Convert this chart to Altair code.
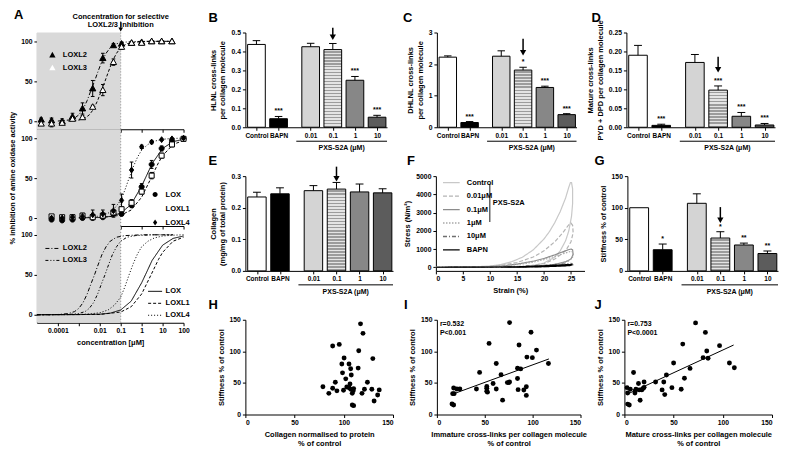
import altair as alt
import pandas as pd

FONT = "Liberation Sans"

# ---------------- Panel A : measured inhibition ----------------
A_CONC_TOP = [1.6e-5, 5e-5, 1.6e-4, 5e-4, 1.5e-3, 4.6e-3, 0.014, 0.045, 0.11, 0.33, 1.0, 3.0, 9.0, 28.0]
LOXL2_M = [2, 1, 0, 6, 16, 41, 79, 95, 97, 98, 99, 100, 100, 100]
LOXL2_E = [2, 3, 3, 4, 7, 10, 6, 2, 2, 1, 1, 1, 1, 1]
LOXL3_M = [-3, -3, -2, 3, 5, 18, 39, 74, 93, 98, 98, 100, 100, 100]
LOXL3_E = [2, 4, 2, 2, 2, 2, 7, 4, 3, 1, 1, 1, 1, 1]

A_CONC_MID = [5e-5, 1.6e-4, 5e-4, 1.5e-3, 4.6e-3, 0.014, 0.045, 0.11, 0.33, 1.0, 3.0, 9.0, 28.0, 100.0]
LOX_M = [-2, -3, -2, 0, 0, 1, 5, 5, 16, 39, 67, 87, 97, 99]
LOX_E = [2, 1, 2, 2, 2, 2, 2, 2, 3, 4, 5, 3, 2, 1]
LOXL1_M = [2, 1, 1, 3, 1, 3, 7, 11, 19, 33, 53, 78, 92, 99]
LOXL1_E = [2, 2, 2, 2, 2, 2, 2, 2, 4, 3, 4, 3, 3, 1]
LOXL4_M = [0, 0, 1, 2, 4, 5, 9, 22, 60, 89, 95, 98, 99, 100]
LOXL4_E = [2, 2, 3, 4, 6, 5, 8, 8, 10, 2, 2, 1, 1, 1]

# fitted curves (log10 concentration, % inhibition)
FIT_LOXL2_LX = [-5, -4, -3.5, -3.2, -3.0, -2.8, -2.6, -2.4, -2.25, -2.1, -1.9, -1.7, -1.5, -1.2, -0.8, 0, 1.5]
FIT_LOXL2_Y = [0, 0.3, 1.5, 4, 8, 15, 26, 40, 50, 61, 75, 85, 92, 97, 99, 100, 100]
FIT_LOXL3_LX = [-5, -3.5, -3.0, -2.7, -2.5, -2.3, -2.1, -1.9, -1.75, -1.6, -1.4, -1.2, -1.0, -0.7, -0.3, 0.5, 1.5]
FIT_LOXL3_Y = [0, 0.3, 1.5, 4, 8, 15, 26, 40, 50, 61, 75, 85, 92, 97, 99, 100, 100]
FIT_LOXL4_LX = [-5, -3, -2.5, -2, -1.6, -1.3, -1.0, -0.8, -0.6, -0.4, -0.2, 0, 0.3, 0.6, 1.0, 1.5, 2]
FIT_LOXL4_Y = [0, 0.3, 1, 2.5, 6, 12, 22, 35, 50, 64, 76, 85, 92, 96, 98.5, 99.5, 100]
FIT_LOX_LX = [-5, -3, -2, -1.5, -1, -0.5, 0, 0.18, 0.5, 1, 1.5, 2]
FIT_LOX_Y = [0, 0.2, 0.7, 2, 6, 17, 40, 50, 68, 87, 95.5, 98.5]
FIT_LOXL1_LX = [-5, -2, -1, -0.5, 0, 0.45, 0.8, 1, 1.5, 2]
FIT_LOXL1_Y = [0, 0.4, 3.4, 10, 26, 50, 69, 78, 92, 97]

# ---------------- Bar panels B-G ----------------
CATS = ["Control", "BAPN", "0.01", "0.1", "1", "10"]
B_M = [0.437, 0.045, 0.425, 0.41, 0.248, 0.053]
B_E = [0.02, 0.012, 0.018, 0.032, 0.02, 0.01]
B_S = ["", "***", "", "", "***", "***"]
C_M = [2.22, 0.15, 2.25, 1.81, 1.26, 0.40]
C_E = [0.04, 0.03, 0.17, 0.09, 0.04, 0.03]
C_S = ["", "***", "", "*", "***", "***"]
D_M = [0.190, 0.005, 0.171, 0.098, 0.029, 0.006]
D_E = [0.026, 0.003, 0.021, 0.011, 0.010, 0.004]
D_S = ["", "***", "", "***", "***", "***"]
E_M = [0.234, 0.244, 0.254, 0.259, 0.250, 0.247]
E_E = [0.015, 0.019, 0.016, 0.021, 0.025, 0.013]
E_S = ["", "", "", "", "", ""]
G_M = [100, 33.5, 107, 52, 41, 27.5]
G_E = [0, 9, 15, 10, 3, 4]
G_S = ["", "*", "", "*", "**", "**"]

# ---------------- Panel F : stress-strain loops ----------------
F_CTRL_X = [0, 5, 10, 12, 14, 16, 18, 20, 21, 22, 23, 24, 24.6, 24.9, 25.1, 25.3, 25.3, 25.1, 24.6, 24, 23, 22, 20, 18, 16, 14, 12]
F_CTRL_Y = [0, 5, 60, 150, 300, 550, 950, 1550, 1950, 2450, 3050, 3800, 4400, 4650, 4650, 4300, 3500, 2800, 2000, 1450, 900, 560, 230, 90, 30, 5, 0]
F_P001_X = [0, 8, 12, 15, 18, 20, 22, 23.5, 24.5, 25, 25.3, 25.4, 25, 24, 22, 20, 17, 14, 12]
F_P001_Y = [0, 20, 100, 260, 560, 900, 1400, 1900, 2300, 2420, 2300, 1900, 1400, 900, 450, 200, 60, 10, 0]
F_P01_X = [0, 8, 12, 15, 18, 20, 22, 23.5, 24.5, 25, 25.3, 25.4, 25, 24, 22, 20, 17, 13]
F_P01_Y = [0, 10, 60, 170, 330, 480, 680, 850, 960, 1000, 950, 700, 450, 300, 160, 80, 25, 0]
F_P1_X = [0, 10, 15, 18, 20, 22, 24, 25, 25.4, 25.3, 24.5, 23, 21, 18, 14]
F_P1_Y = [0, 30, 140, 280, 420, 600, 780, 880, 820, 550, 330, 190, 100, 35, 0]
F_P10_X = [0, 10, 15, 18, 20, 22, 24, 25, 25.2, 25, 23, 20, 16, 12]
F_P10_Y = [0, 10, 40, 80, 110, 150, 190, 210, 190, 120, 70, 35, 10, 0]
F_BAPN_X = [0, 10, 15, 18, 20, 22, 24, 25, 25.2, 24.8, 22, 19, 15, 12]
F_BAPN_Y = [0, 5, 25, 55, 80, 110, 140, 150, 130, 90, 50, 20, 5, 0]
F_NAMES = ["Control", "0.01\u03bcM", "0.1\u03bcM", "1\u03bcM", "10\u03bcM", "BAPN"]

# ---------------- Scatter panels H-J ----------------
H_X = [78.8, 84.8, 88.7, 88.7, 91.4, 93, 95.4, 98, 98.7, 100.3, 99.7, 102, 103, 105.3, 105.3, 106.3, 107, 107.6,
       107, 108.6, 109.6, 108.6, 110, 110, 114.6, 115.2, 117, 118.5, 119.5, 121, 124, 128.5, 129.5, 130.8, 134.4, 136]
H_Y = [44, 33.5, 108.5, 41.5, 51, 37.5, 111, 80, 66, 89.5, 38.5, 56.5, 43.5, 42.5, 80, 48.5, 72.5, 62.5,
       40, 33.5, 37.5, 15, 14, 41, 73.5, 101, 143.5, 33.5, 128.5, 40, 51, 40, 88.5, 21.5, 31, 39]
I_X = [15.8, 17.5, 16.5, 18, 17.5, 20.8, 24, 41.3, 44.6, 52.1, 52.1, 52.1, 52.8, 54.5, 58.7, 62, 62, 67, 68.6,
       73.6, 75.2, 75.9, 75.9, 84.2, 84.2, 84.8, 85.8, 87.5, 90.8, 93.4, 93.4, 94, 98.3, 99.7, 104, 116.5]
I_Y = [16.7, 15, 33, 33, 42, 40.4, 40.4, 40.4, 66.7, 41.4, 36.9, 44.4, 35.4, 112.6, 49, 40.4, 80.8, 63, 22.7,
       50.5, 50.5, 51.5, 145.5, 73.2, 57, 39.4, 110, 72.2, 38.9, 43.9, 30.3, 90.9, 130.3, 90, 102, 80.8]
I_FIT_X = [16, 117]
I_FIT_Y = [32, 88]
J_X = [2.7, 3.3, 3.3, 5, 6, 9.3, 10.7, 11, 11.7, 14.3, 15, 16, 17.7, 19.3, 20, 20, 31.7, 38.3, 40, 41, 42.7,
       48.3, 50, 57.7, 59.3, 61, 66.7, 72.3, 80, 82.3, 83.7, 85, 96.7, 106.7, 111.7]
J_Y = [42.5, 34, 16.5, 15, 40, 66.5, 34, 37.5, 40, 49, 39, 22.5, 39, 41.5, 43, 51.5, 51.5, 39, 51.5, 31.5, 62.5,
       42.5, 81.5, 40, 111.5, 57.5, 73, 145, 90, 130, 100.5, 89, 109, 81.5, 74]
J_FIT_X = [4, 111]
J_FIT_Y = [33, 110]

# =================================================================
BLACK = "black"
LBL = 6.8    # tick label size
TTL = 7.5    # axis title size


def letter(t, dx, dy=-21):
    return alt.Chart(pd.DataFrame({"t": [t]})).mark_text(
        font=FONT, fontSize=13, fontWeight="bold", align="left", baseline="top", color=BLACK
    ).encode(text="t:N", x=alt.value(dx), y=alt.value(dy))


# ---------- panel A ----------
XA_SCALE = alt.Scale(type="log", domain=[1e-5, 100], nice=False)
YA_SCALE = alt.Scale(domain=[-10, 111], nice=False, zero=False)
A_TICKS = [1e-4, 1e-3, 1e-2, 0.1, 1, 10, 100]
A_LABELS = ("datum.value < 0.0005 ? '0.0001' : (datum.value < 0.005 ? '' : (datum.value < 0.05 ? '0.01' : "
            "(datum.value < 0.5 ? '0.1' : (datum.value < 5 ? '1' : (datum.value < 50 ? '10' : '100')))))")
AW = 147


def XA(field, labels, title):
    return alt.X(field, type="quantitative", scale=XA_SCALE,
                 axis=alt.Axis(values=A_TICKS, labels=labels, labelExpr=A_LABELS, title=title,
                               tickSize=3, labelFlush=False))


def YA(field, title):
    return alt.Y(field, type="quantitative", scale=YA_SCALE,
                 axis=alt.Axis(values=[0, 50, 100], title=title, tickSize=3, titlePadding=4))


TRI = "M0,-0.45L0.45,0.35L-0.45,0.35Z"
CIRC = "M-0.36,0A0.36,0.36,0,1,0,0.36,0A0.36,0.36,0,1,0,-0.36,0Z"
SQR = "M-0.36,-0.36H0.36V0.36H-0.36Z"
DIAM = "M0,-0.42L0.3,0L0,0.42L-0.3,0Z"


def leg(x, y, labels=True, stroke=False):
    kw = dict(orient="none", legendX=x, legendY=y, title=None, symbolSize=196,
              symbolStrokeColor=BLACK, symbolStrokeWidth=1, rowPadding=1, labelOffset=3,
              labelFont=FONT, labelFontSize=7.5, labelFontWeight="bold", labelColor=BLACK,
              labelOpacity=1 if labels else 0, padding=0)
    if stroke:
        kw["symbolType"] = "stroke"
    return alt.Legend(**kw)


def a_measured(conc, series, means, errs, shapes, fills, dashes, fit_lx, fit_y, lxy, h, labels, xtitle, ytitle,
               extra=None):
    rows = []
    for s, m, e in zip(series, means, errs):
        for c, mv, ev in zip(conc, m, e):
            rows.append({"s": s, "conc": c, "m": mv, "e": ev})
    pts = pd.DataFrame(rows)
    crow = []
    for s, lx, ys in zip(series, fit_lx, fit_y):
        for a, b in zip(lx, ys):
            crow.append({"ln": s, "lx": a, "v": b})
    cdf = pd.DataFrame(crow)
    cmin = min(conc)

    shade_df = pd.DataFrame({"a": [1e-5], "b": [0.1], "lo": [-10], "hi": [111]})
    shade = alt.Chart(shade_df).mark_rect(color="#d9d9d9").encode(
        x=XA("a", labels, xtitle), x2="b:Q", y=YA("lo", ytitle), y2="hi:Q")
    vline = alt.Chart(shade_df).mark_rule(color="#8c8c8c", strokeDash=[1, 2]).encode(
        x=XA("b", labels, xtitle), y=YA("lo", ytitle), y2="hi:Q")

    sd = alt.Scale(domain=series, range=dashes)
    curves = alt.Chart(cdf).transform_calculate(conc="pow(10, datum.lx)").transform_filter(
        f"datum.conc >= {cmin / 1.01}").mark_line(color=BLACK, strokeWidth=1).encode(
        x=XA("conc", labels, xtitle), y=YA("v", ytitle),
        strokeDash=alt.StrokeDash("ln:N", scale=sd, legend=leg(lxy[0], lxy[1], True, True)))

    base = alt.Chart(pts).transform_calculate(lo="datum.m - datum.e", hi="datum.m + datum.e",
                                              cl="datum.conc / 1.22", cr="datum.conc * 1.22")
    err = base.mark_rule(color=BLACK, strokeWidth=1).encode(
        x=XA("conc", labels, xtitle), y=YA("lo", ytitle), y2="hi:Q")
    cap1 = base.mark_rule(color=BLACK, strokeWidth=1).encode(
        x=XA("cl", labels, xtitle), x2="cr:Q", y=YA("hi", ytitle))
    cap2 = base.mark_rule(color=BLACK, strokeWidth=1).encode(
        x=XA("cl", labels, xtitle), x2="cr:Q", y=YA("lo", ytitle))
    ss = alt.Scale(domain=series, range=shapes)
    fs = alt.Scale(domain=series, range=fills)
    points = base.mark_point(size=196, stroke=BLACK, strokeWidth=1, opacity=1).encode(
        x=XA("conc", labels, xtitle), y=YA("m", ytitle),
        shape=alt.Shape("s:N", scale=ss, legend=leg(lxy[0], lxy[1], False)),
        fill=alt.Fill("s:N", scale=fs, legend=leg(lxy[0], lxy[1], False)))
    layers = [shade, vline, curves, err, cap1, cap2, points]
    if extra:
        layers += extra
    return alt.layer(*layers).properties(width=AW, height=h)


# annotation for the top of panel A
ann_df = pd.DataFrame({"c": [0.1], "t": ["Concentration for selective\nLOXL2/3 inhibition"]})
ann_text = alt.Chart(ann_df).mark_text(font=FONT, fontSize=7.5, fontWeight="bold", lineBreak="\n",
                                       align="center", baseline="bottom", lineHeight=8, color=BLACK).encode(
    x=XA("c", False, None), y=alt.value(-12), text="t:N")
ann_rule = alt.Chart(ann_df).mark_rule(color=BLACK, strokeWidth=1).encode(
    x=XA("c", False, None), y=alt.value(-11), y2=alt.value(-4))
ann_head = alt.Chart(ann_df).mark_point(shape="triangle-down", filled=True, color=BLACK, size=22, opacity=1).encode(
    x=XA("c", False, None), y=alt.value(-3))

A1 = a_measured(A_CONC_TOP, ["LOXL2", "LOXL3"], [LOXL2_M, LOXL3_M], [LOXL2_E, LOXL3_E],
                [TRI, TRI], [BLACK, "white"], [[4, 2, 1, 2], [3, 2]],
                [FIT_LOXL2_LX, FIT_LOXL3_LX], [FIT_LOXL2_Y, FIT_LOXL3_Y], (8, 15), 97, False, None, None,
                extra=[ann_text, ann_rule, ann_head, letter("A", -23, -24)])
A2 = a_measured(A_CONC_MID, ["LOX", "LOXL1", "LOXL4"], [LOX_M, LOXL1_M, LOXL4_M], [LOX_E, LOXL1_E, LOXL4_E],
                [CIRC, SQR, DIAM], [BLACK, "white", BLACK], [[1, 0], [3, 2], [1, 2]],
                [FIT_LOX_LX, FIT_LOXL1_LX, FIT_LOXL4_LX], [FIT_LOX_Y, FIT_LOXL1_Y, FIT_LOXL4_Y], (111, 58), 97,
                False, None, "% inhibition of amine oxidase activity")

# bottom of A: fitted curves only
fit_rows = []
for s, lx, ys in zip(["LOXL2", "LOXL3", "LOX", "LOXL1", "LOXL4"],
                     [FIT_LOXL2_LX, FIT_LOXL3_LX, FIT_LOX_LX, FIT_LOXL1_LX, FIT_LOXL4_LX],
                     [FIT_LOXL2_Y, FIT_LOXL3_Y, FIT_LOX_Y, FIT_LOXL1_Y, FIT_LOXL4_Y]):
    for a, b in zip(lx, ys):
        fit_rows.append({"s": s, "lx": a, "v": b, "g": "L23" if s in ("LOXL2", "LOXL3") else "L14"})
fit_df = pd.DataFrame(fit_rows)
XT = "concentration [\u03bcM]"
shade3_df = pd.DataFrame({"a": [1e-5], "b": [0.1], "lo": [-10], "hi": [111]})
shade3 = alt.Chart(shade3_df).mark_rect(color="#d9d9d9").encode(
    x=XA("a", True, XT), x2="b:Q", y=YA("lo", None), y2="hi:Q")
vline3 = alt.Chart(shade3_df).mark_rule(color="#8c8c8c", strokeDash=[1, 2]).encode(
    x=XA("b", True, XT), y=YA("lo", None), y2="hi:Q")
cur23 = alt.Chart(fit_df).transform_filter("datum.g == 'L23'").transform_calculate(
    conc="pow(10, datum.lx)").mark_line(color=BLACK, strokeWidth=1).encode(
    x=XA("conc", True, XT), y=YA("v", None),
    strokeDash=alt.StrokeDash("s:N", scale=alt.Scale(domain=["LOXL2", "LOXL3"], range=[[4, 2, 1, 2], [3, 2, 1, 2, 1, 2]]),
                              legend=leg(8, 15, True, True)))
cur14 = alt.Chart(fit_df).transform_filter("datum.g == 'L14'").transform_calculate(
    conc="pow(10, datum.lx)").mark_line(color=BLACK, strokeWidth=1).encode(
    x=XA("conc", True, XT), y=YA("v", None),
    strokeDash=alt.StrokeDash("s:N", scale=alt.Scale(domain=["LOX", "LOXL1", "LOXL4"], range=[[1, 0], [3, 2], [1, 2]]),
                              legend=leg(111, 58, True, True)))
A3 = alt.layer(shade3, vline3, cur23, cur14).resolve_scale(strokeDash="independent").properties(width=AW, height=97)

A_col = alt.vconcat(A1, A2, A3, spacing=0, bounds="flush").resolve_scale(
    strokeDash="independent", shape="independent", fill="independent")

# ---------- bar panels ----------
FILLS = ["white", BLACK, "#d4d4d4", "#a8a8a8", "#878787", "#5c5c5c"]
BX_SCALE = alt.Scale(domain=[-0.5, 5.9], nice=False, zero=False)
BX_LABELS = ("datum.value < 0.5 ? 'Control' : (datum.value < 1.5 ? 'BAPN' : (datum.value < 3 ? '0.01' : "
             "(datum.value < 4 ? '0.1' : (datum.value < 5 ? '1' : '10'))))")


def BX(field):
    return alt.X(field, type="quantitative", scale=BX_SCALE,
                 axis=alt.Axis(values=[0, 1, 2.45, 3.45, 4.45, 5.45], labelExpr=BX_LABELS, title=None,
                               tickSize=3, labelFlush=False, labelOverlap=False, labelFontSize=6.5))


def stripes(n):
    stops = []
    for k in range(n):
        a, b, c = k / n, (k + 0.45) / n, (k + 1) / n
        stops += [alt.GradientStop(color="#e4e4e4", offset=a), alt.GradientStop(color="#e4e4e4", offset=b),
                  alt.GradientStop(color="#9c9c9c", offset=b), alt.GradientStop(color="#9c9c9c", offset=c)]
    return alt.Gradient(gradient="linear", stops=stops, x1=0, x2=0, y1=0, y2=1)


def bar_panel(lt, ldx, means, errs, stars, ytitle, ydom, yvals, yfmt, arrow, w, h):
    df = pd.DataFrame({"cat": CATS, "i": list(range(6)), "m": means, "e": errs, "s": stars})
    ys = alt.Scale(domain=ydom, nice=False, zero=False)

    def BY(field):
        return alt.Y(field, type="quantitative", scale=ys,
                     axis=alt.Axis(values=yvals, format=yfmt, title=ytitle, tickSize=3, titlePadding=4))

    base = (alt.Chart(df).transform_calculate(p="datum.i + (datum.i >= 2 ? 0.45 : 0)")
            .transform_calculate(lo="datum.p - 0.4").transform_calculate(hi="datum.p + 0.4")
            .transform_calculate(top="datum.m + datum.e").transform_calculate(cl="datum.p - 0.17")
            .transform_calculate(cr="datum.p + 0.17").transform_calculate(z="0"))
    bars = base.transform_filter("datum.i != 3").mark_rect(stroke=BLACK, strokeWidth=1).encode(
        x=BX("lo"), x2="hi:Q", y=BY("m"), y2="z:Q",
        fill=alt.Fill("cat:N", scale=alt.Scale(domain=CATS, range=FILLS), legend=None))
    n = max(3, int(round(means[3] / (ydom[1] - ydom[0]) * h / 3.0)))
    striped = base.transform_filter("datum.i == 3").mark_rect(stroke=BLACK, strokeWidth=1, fill=stripes(n)).encode(
        x=BX("lo"), x2="hi:Q", y=BY("m"), y2="z:Q")
    err = base.transform_filter("datum.e > 0").mark_rule(color=BLACK, strokeWidth=1).encode(
        x=BX("p"), y=BY("m"), y2="top:Q")
    cap = base.transform_filter("datum.e > 0").mark_rule(color=BLACK, strokeWidth=1).encode(
        x=BX("cl"), x2="cr:Q", y=BY("top"))
    star = base.mark_text(font=FONT, fontSize=7, fontWeight="bold", baseline="bottom", dy=-2, color=BLACK).encode(
        x=BX("p"), y=BY("top"), text="s:N")
    adf = pd.DataFrame({"p": [3.45], "a0": [arrow[0]], "a1": [arrow[1]]})
    arule = alt.Chart(adf).mark_rule(color=BLACK, strokeWidth=1.5).encode(x=BX("p"), y=BY("a0"), y2="a1:Q")
    ahead = alt.Chart(adf).mark_point(shape="triangle-down", filled=True, color=BLACK, size=40, opacity=1).encode(
        x=BX("p"), y=BY("a1"))
    gdf = pd.DataFrame({"x0": [1.8], "x1": [5.9], "xm": [3.85], "t": ["PXS-S2A (\u03bcM)"]})
    grule = alt.Chart(gdf).mark_rule(color=BLACK, strokeWidth=1).encode(x=BX("x0"), x2="x1:Q", y=alt.value(h + 14))
    gtext = alt.Chart(gdf).mark_text(font=FONT, fontSize=7, fontWeight="bold", baseline="top", color=BLACK).encode(
        x=BX("xm"), y=alt.value(h + 17), text="t:N")
    return alt.layer(bars, striped, err, cap, star, arule, ahead, grule, gtext, letter(lt, ldx)).properties(
        width=w, height=h)


B = bar_panel("B", -37, B_M, B_E, B_S, ["HLNL cross-links", "per collagen molecule"], [0, 0.5],
              [0, 0.1, 0.2, 0.3, 0.4, 0.5], ".1f", (0.525, 0.475), 142, 95)
C = bar_panel("C", -34, C_M, C_E, C_S, ["DHLNL cross-links", "per collagen molecule"], [0, 3],
              [0, 1, 2, 3], "d", (2.8, 2.36), 140, 95)
D = bar_panel("D", -35, D_M, D_E, D_S, ["Mature cross-links", "PYD + DPD per collagen molecule"], [0, 0.25],
              [0, 0.05, 0.1, 0.15, 0.2, 0.25], ".2f", (0.186, 0.152), 149, 95)
E = bar_panel("E", -37, E_M, E_E, E_S, ["Collagen", "(mg/mg of total protein)"], [0, 0.3],
              [0, 0.1, 0.2, 0.3], ".1f", (0.33, 0.292), 148, 95)
G = bar_panel("G", -33, G_M, G_E, G_S, "Stiffness % of control", [0, 150],
              [0, 50, 100, 150], "d", (101, 80), 151, 95)

# ---------- panel F ----------
frows = []
for name, xs, ys in zip(F_NAMES, [F_CTRL_X, F_P001_X, F_P01_X, F_P1_X, F_P10_X, F_BAPN_X],
                        [F_CTRL_Y, F_P001_Y, F_P01_Y, F_P1_Y, F_P10_Y, F_BAPN_Y]):
    for k, (a, b) in enumerate(zip(xs, ys)):
        frows.append({"c": name, "k": k, "x": a, "y": b})
fdf = pd.DataFrame(frows)
F_COLORS = ["#c8c8c8", "#b4b4b4", "#8c8c8c", "#a8a8a8", "#6e6e6e", BLACK]
F_DASH = [[1, 0], [4, 2], [1, 0], [1.5, 1.5], [4, 2, 1, 2], [1, 0]]
FH = 95
fleg = alt.Legend(orient="none", legendX=6, legendY=-3, title=None, symbolSize=280, symbolStrokeWidth=1.3,
                  rowPadding=0.5, labelOffset=6, labelFont=FONT, labelFontSize=7.5, labelFontWeight="bold",
                  labelColor=BLACK, symbolType="stroke", padding=0)
fx = alt.X("x:Q", scale=alt.Scale(domain=[0, 27.5], nice=False),
           axis=alt.Axis(values=[0, 5, 10, 15, 20, 25], title="Strain (%)", tickSize=3))
fy = alt.Y("y:Q", scale=alt.Scale(domain=[-200, 5000], nice=False, zero=False),
           axis=alt.Axis(values=[0, 1000, 2000, 3000, 4000, 5000], title="Stress (N/m\u00b2)", tickSize=3,
                         titlePadding=4, format="d"))
flines = alt.Chart(fdf).mark_line(strokeWidth=1.2).encode(
    x=fx, y=fy, order="k:Q",
    color=alt.Color("c:N", scale=alt.Scale(domain=F_NAMES, range=F_COLORS), legend=fleg),
    strokeDash=alt.StrokeDash("c:N", scale=alt.Scale(domain=F_NAMES, range=F_DASH), legend=fleg))
br_df = pd.DataFrame({"t": ["PXS-S2A"]})
fbr = alt.Chart(br_df).mark_rule(color="#666666", strokeWidth=1.5).encode(
    x=alt.value(54), y=alt.value(8), y2=alt.value(46))
fbt = alt.Chart(br_df).mark_text(font=FONT, fontSize=7.5, fontWeight="bold", align="left", baseline="middle",
                                 color=BLACK).encode(x=alt.value(57), y=alt.value(27), text="t:N")
F = alt.layer(flines, fbr, fbt, letter("F", -29)).properties(width=149, height=FH)


# ---------- scatter panels ----------
def scatter(lt, ldx, xs, ys, xtitle, fitx=None, fity=None, stat=None, w=146, h=95):
    df = pd.DataFrame({"x": xs, "y": ys})
    sx = alt.X("x:Q", scale=alt.Scale(domain=[0, 150], nice=False),
               axis=alt.Axis(values=[0, 50, 100, 150], title=xtitle, tickSize=3))
    sy = alt.Y("y:Q", scale=alt.Scale(domain=[0, 150], nice=False),
               axis=alt.Axis(values=[0, 50, 100, 150], title="Stiffness % of control", tickSize=3, titlePadding=4))
    layers = [alt.Chart(df).mark_circle(size=24, color=BLACK, opacity=1).encode(x=sx, y=sy)]
    if fitx is not None:
        layers.append(alt.Chart(pd.DataFrame({"x": fitx, "y": fity})).mark_line(color=BLACK, strokeWidth=1).encode(
            x=sx, y=sy))
    if stat is not None:
        layers.append(alt.Chart(pd.DataFrame({"t": [stat]})).mark_text(
            font=FONT, fontSize=7, fontWeight="bold", align="left", baseline="top", lineBreak="\n", lineHeight=9,
            color=BLACK).encode(x=alt.value(3), y=alt.value(0), text="t:N"))
    layers.append(letter(lt, ldx))
    return alt.layer(*layers).properties(width=w, height=h)


H = scatter("H", -37, H_X, H_Y, ["Collagen normalised to protein", "% of control"], w=148)
I = scatter("I", -33, I_X, I_Y, ["Immature cross-links per collagen molecule", "% of control"],
            I_FIT_X, I_FIT_Y, "r=0.532\nP<0.001", w=144)
J = scatter("J", -30, J_X, J_Y, ["Mature cross-links per collagen molecule", "% of control"],
            J_FIT_X, J_FIT_Y, "r=0.753\nP<0.0001", w=148)

IND = dict(color="independent", fill="independent", shape="independent", strokeDash="independent")
row1 = alt.hconcat(B, C, D, spacing=50, bounds="flush").resolve_scale(**IND)
row2 = alt.hconcat(E, F, G, spacing=43, bounds="flush").resolve_scale(**IND)
row3 = alt.hconcat(H, I, J, spacing=44, bounds="flush").resolve_scale(**IND)
right = alt.vconcat(row1, row2, row3, spacing=4).resolve_scale(**IND)

chart = (alt.hconcat(A_col, right, spacing=18).resolve_scale(**IND)
         .properties(padding=0, background="white")
         .configure(font=FONT)
         .configure_axis(labelFont=FONT, titleFont=FONT, labelFontSize=LBL, titleFontSize=TTL, labelFontWeight="bold",
                         titleFontWeight="bold", grid=False, domainColor=BLACK, tickColor=BLACK, labelColor=BLACK,
                         titleColor=BLACK, domainWidth=1, tickWidth=1, labelPadding=2)
         .configure_view(stroke=None)
         .configure_legend(labelFont=FONT, labelColor=BLACK))

chart.save("out.html", embed_options={"renderer": "svg", "actions": False})
